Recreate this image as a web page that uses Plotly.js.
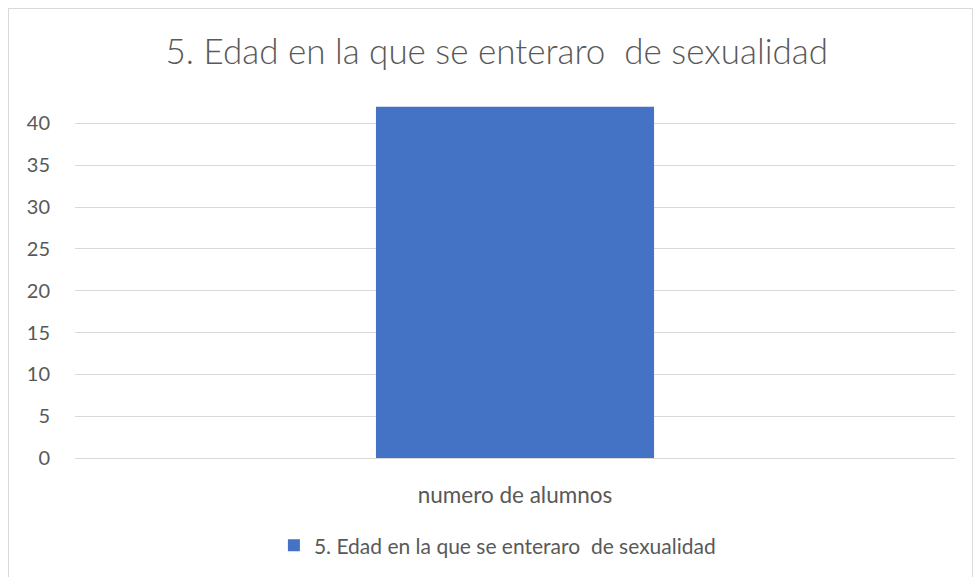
<!DOCTYPE html>
<html><head><meta charset="utf-8">
<script src="https://cdn.plot.ly/plotly-3.0.1.min.js"></script>
<style>body{margin:0;background:#fff}#frame{position:absolute;left:8px;top:8px;width:963px;height:572px;border:1px solid #d9d9d9;pointer-events:none}</style>
</head><body>
<div id="chart" style="width:974px;height:577px"></div>
<div id="frame"></div>
<script>
const categories = ["numero de alumnos"];
const values = [42];
const seriesName = "5. Edad en la que se enteraro  de sexualidad";
const titleText = "5. Edad en la que se enteraro  de sexualidad";
const tickVals = [0,5,10,15,20,25,30,35,40];

const font = "Lato, 'Open Sans', sans-serif";
Plotly.newPlot('chart', [{
  type: 'bar', x: categories, y: values, name: seriesName,
  marker: {color: '#4472c4'}, showlegend: true, hoverinfo: 'y'
}], {
  width: 974, height: 577,
  margin: {l: 75, r: 19, t: 90, b: 118},
  paper_bgcolor: '#fff', plot_bgcolor: '#fff',
  font: {family: font, color: '#595959', size: 21},
  title: {text: titleText, font: {size: 35, color: '#595959', family: font, weight: 300}, x: 0.51, xanchor: 'center', y: 0.91, yanchor: 'middle'},
  bargap: 0.684,
  xaxis: {showgrid: false, showline: true, linecolor: '#d9d9d9', linewidth: 1, ticks: '', tickfont: {size: 22.5, color: '#595959'}, ticklabelstandoff: 17, fixedrange: true},
  yaxis: {range: [0, 44], tickvals: tickVals, ticktext: tickVals.map(String), gridcolor: '#d9d9d9', gridwidth: 1, zeroline: false, showline: false, ticks: '', tickfont: {size: 20, color: '#595959'}, ticklabelstandoff: 24, fixedrange: true},
  legend: {orientation: 'h', x: 0.48, xanchor: 'center', y: -0.235, yanchor: 'middle', font: {size: 21, color: '#595959'}, itemwidth: 30, itemsizing: 'constant'}
}, {displayModeBar: false, staticPlot: true});
</script>
</body></html>
